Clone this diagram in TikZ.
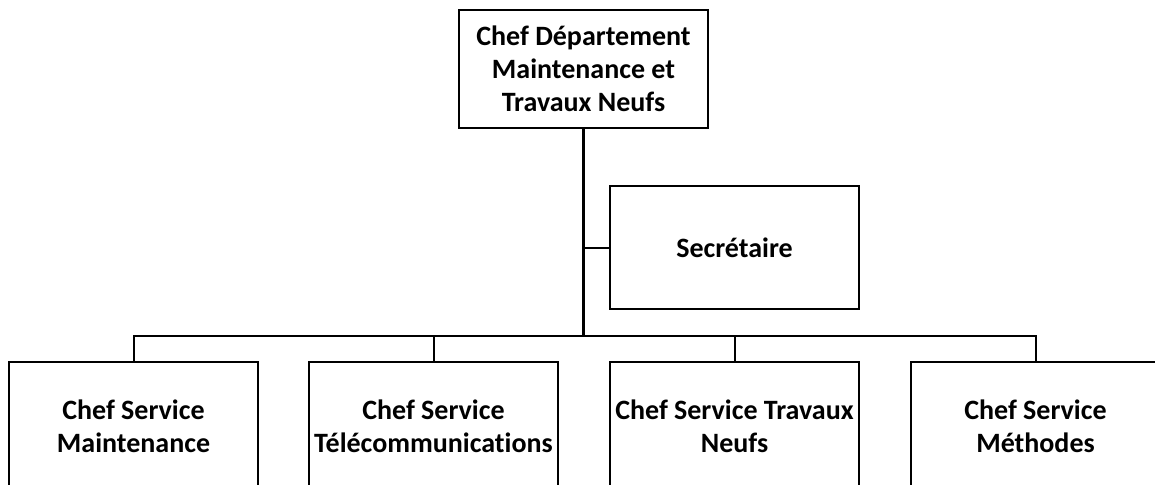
\documentclass[tikz,border=0pt]{standalone}
\usepackage{fontspec}
\setmainfont{Carlito}[Ligatures=NoCommon]
\begin{document}
\begin{tikzpicture}
[
x=0.5pt, y=0.5pt,
every node/.style={font=\bfseries\fontsize{14}{16.4}\selectfont},
Box/.style={rectangle, draw=black, fill=white, line width=1.3pt, align=center, inner sep=0pt, minimum width=124.5pt},
Link/.style={-, draw=black, line width=1pt},
]

\useasboundingbox (0,0) rectangle (1155,484);
\clip (0,0) rectangle (1155,484);

\node[Box, minimum height=59pt] (chef) at (583.5,415) {Chef D\'epartement\\Maintenance et\\Travaux Neufs};
\node[Box, minimum height=61.5pt] (sec) at (734.5,236.5) {Secr\'etaire};

\node[Box, minimum height=64pt] (maint) at (133.5,58) {Chef Service\\Maintenance};
\node[Box, minimum height=64pt] (telecom) at (433.5,58) {Chef Service\\T\'el\'ecommunications};
\node[Box, minimum height=64pt] (travaux) at (734.5,58) {Chef Service Travaux\\Neufs};
\node[Box, minimum height=64pt] (methodes) at (1035.5,58) {Chef Service\\M\'ethodes};

\coordinate (hub) at (583.5,148);

\draw[Link, line width=1.3pt] (chef.south) -- (hub);
\draw[Link] (sec.west) -- (sec.west -| hub);
\draw[Link] (maint.north) |- (hub) -| (methodes.north);
\draw[Link] (telecom.north) -- (telecom.north |- hub);
\draw[Link] (travaux.north) -- (travaux.north |- hub);

\end{tikzpicture}
\end{document}
